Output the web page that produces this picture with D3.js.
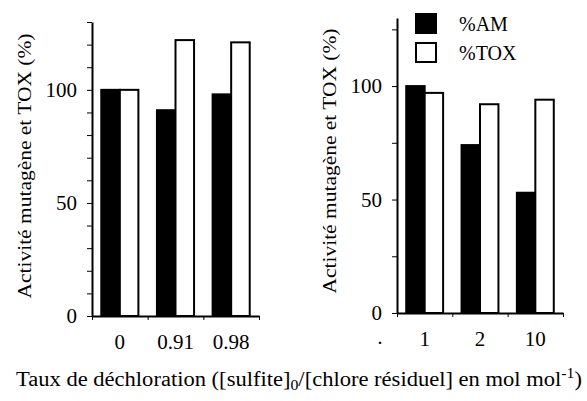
<!DOCTYPE html>
<html lang="fr">
<head>
  <meta charset="UTF-8">
  <title>Activité mutagène et TOX</title>
  <script src="https://d3js.org/d3.v7.min.js"></script>
  <style>
    html, body { margin: 0; padding: 0; background: #fff; }
    svg { display: block; font-family: "Liberation Serif", "DejaVu Serif", serif; }
  </style>
</head>
<body>
  <div id="chart"></div>
  <script>
    // data
    var leftCats = ["0", "0.91", "0.98"];
    var leftAM = [100, 91, 98];
    var leftTOX = [100, 122, 121];

    var rightCats = ["1", "2", "10"];
    var rightAM = [100, 74, 53];
    var rightTOX = [97, 92, 94];

    var series = ["AM", "TOX"];
    var legendLabels = ["%AM", "%TOX"];
    var yLabel = "Activité mutagène et TOX (%)";

    var serif = "Liberation Serif";
    var width = 587, height = 401;
    var svg = d3.select("#chart").append("svg")
      .attr("width", width)
      .attr("height", height);

    function panel(opts) {
      var y = d3.scaleLinear().domain([0, 130]).range([opts.y0, opts.y1]);
      var x = d3.scaleBand().domain(opts.cats).range([opts.x0, opts.x1]);
      var xi = d3.scaleBand().domain(series).range([0, x.bandwidth()]).paddingOuter(0.5);
      var g = svg.append("g");

      var rows = opts.cats.map(function(c, i) {
        return { cat: c, AM: opts.am[i], TOX: opts.tox[i] };
      });

      // bars
      var grp = g.selectAll("g.grp").data(rows).enter().append("g")
        .attr("transform", d => `translate(${x(d.cat)},0)`);
      grp.selectAll("rect").data(d => series.map(s => ({ s: s, v: d[s] })))
        .enter().append("rect")
        .attr("x", d => xi(d.s))
        .attr("y", d => y(d.v))
        .attr("width", xi.bandwidth())
        .attr("height", d => y(0) - y(d.v))
        .attr("fill", d => d.s === "AM" ? "#000" : "#fff")
        .attr("stroke", "#000")
        .attr("stroke-width", 2);

      // y axis
      var ya = g.append("g")
        .attr("transform", `translate(${opts.x0},0)`)
        .attr("font-family", serif)
        .call(d3.axisLeft(y).tickValues(d3.range(0, 131, opts.minor)).tickSize(5).tickPadding(10)
          .tickFormat(d => (d % 50 === 0 ? d : "")).tickSizeOuter(0));
      ya.select(".domain").attr("stroke-width", 2);
      ya.selectAll("text").attr("font-size", 21).attr("font-family", serif);

      // x axis (ticks at category boundaries)
      var edges = d3.scaleLinear().domain([0, 3]).range([opts.x0, opts.x1]);
      var xa = g.append("g")
        .attr("transform", `translate(0,${opts.y0})`)
        .call(d3.axisBottom(edges).tickValues([0, 1, 2, 3]).tickFormat("").tickSize(4).tickSizeOuter(0));
      xa.select(".domain").attr("stroke-width", 2);

      g.append("g")
        .attr("transform", `translate(0,${opts.y0})`)
        .attr("font-family", serif)
        .call(d3.axisBottom(x).tickSize(0).tickPadding(18))
        .call(a => a.select(".domain").remove())
        .selectAll("text").attr("font-size", 21).attr("font-family", serif);

      // y title
      g.append("text")
        .attr("transform", `translate(${opts.tx},${opts.ty}) rotate(-90)`)
        .attr("text-anchor", "middle")
        .attr("font-size", 19)
        .attr("textLength", 265)
        .attr("lengthAdjust", "spacingAndGlyphs")
        .text(yLabel);

      return { x: x, y: y };
    }

    panel({ cats: leftCats, am: leftAM, tox: leftTOX, x0: 92, x1: 259, y0: 316, y1: 22,
            minor: 10, tx: 31, ty: 166 });
    panel({ cats: rightCats, am: rightAM, tox: rightTOX, x0: 397, x1: 563, y0: 313, y1: 18,
            minor: 25, tx: 336, ty: 161 });

    // stray dot below the right axis
    svg.append("text").attr("x", 380).attr("y", 350)
      .attr("text-anchor", "middle").attr("font-size", 21).text("·");

    // legend
    var lg = svg.append("g").attr("transform", "translate(415,13)");
    legendLabels.forEach(function(t, i) {
      lg.append("rect").attr("x", 1).attr("y", i * 29 + 1).attr("width", 20).attr("height", 19)
        .attr("fill", i === 0 ? "#000" : "#fff").attr("stroke", "#000").attr("stroke-width", 2);
      lg.append("text").attr("x", 44).attr("y", i * 29 + 18)
        .attr("font-size", 20).text(t);
    });

    // x title with sub/superscript
    var title = svg.append("text")
      .attr("x", 299).attr("y", 386)
      .attr("text-anchor", "middle")
      .attr("font-size", 20)
      .attr("textLength", 566)
      .attr("lengthAdjust", "spacingAndGlyphs");
    title.append("tspan").text("Taux de déchloration ([sulfite]");
    title.append("tspan").attr("dy", 4).attr("font-size", 14).text("0");
    title.append("tspan").attr("dy", -4).text("/[chlore résiduel] en mol mol");
    title.append("tspan").attr("dy", -8).attr("font-size", 14).text("-1");
    title.append("tspan").attr("dy", 8).text(")");
  </script>
</body>
</html>
